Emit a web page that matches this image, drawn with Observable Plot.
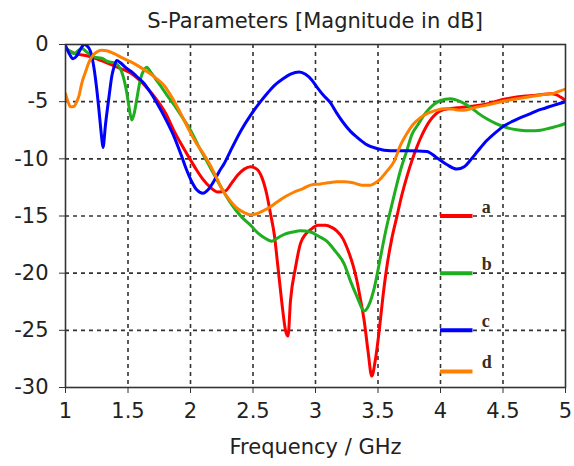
<!DOCTYPE html>
<html>
<head>
<meta charset="utf-8">
<script src="https://cdn.jsdelivr.net/npm/d3@7"></script>
<script src="https://cdn.jsdelivr.net/npm/@observablehq/plot@0.6"></script>
<style>
  html, body { margin: 0; padding: 0; background: #fff; }
  #title { width: 574px; box-sizing: border-box; height: 20px; padding: 9px 9px 0 65px; text-align: center; overflow: visible;
           font-family: "DejaVu Sans", sans-serif; font-size: 21px; line-height: 24px; color: #222; white-space: nowrap; }
  svg { display: block; }
</style>
</head>
<body>
<div id="title">S-Parameters [Magnitude in dB]</div>
<div id="chart"></div>
<script>
// ---- data ----
const seriesNames = ["a", "b", "c", "d"];

const freqA = [1.00,1.08,1.18,1.25,1.33,1.44,1.52,1.59,1.66,1.72,1.80,1.87,1.93,2.00,2.05,2.10,2.16,2.22,2.28,2.33,2.38,2.43,2.48,2.53,2.57,2.61,2.64,2.67,2.70,2.73,2.76,2.78,2.80,2.84,2.88,2.92,2.96,3.02,3.08,3.13,3.17,3.22,3.26,3.30,3.33,3.36,3.39,3.42,3.45,3.48,3.51,3.54,3.57,3.61,3.65,3.69,3.73,3.77,3.81,3.84,3.88,3.92,4.00,4.08,4.16,4.25,4.37,4.45,4.53,4.61,4.69,4.80,4.88,4.93,4.96,5.00];
const magA  = [-0.4,-0.8,-1.0,-1.25,-1.6,-2.1,-2.5,-3.1,-3.9,-4.7,-6.0,-7.6,-8.8,-10.1,-11.0,-11.8,-12.5,-12.9,-12.8,-12.1,-11.4,-10.9,-10.7,-10.9,-11.6,-13.1,-14.8,-16.6,-19.5,-22.5,-25.0,-25.5,-22.4,-19.5,-17.4,-16.6,-16.2,-15.8,-15.8,-16.0,-16.3,-17.0,-18.0,-19.3,-20.6,-22.3,-24.2,-26.8,-29.0,-27.5,-25.0,-22.0,-19.5,-17.0,-15.1,-13.2,-11.6,-10.2,-9.0,-8.2,-7.3,-6.6,-5.8,-5.6,-5.5,-5.4,-5.2,-4.95,-4.75,-4.6,-4.5,-4.4,-4.3,-4.4,-4.6,-4.9];

const freqB = [1.00,1.04,1.07,1.10,1.13,1.17,1.23,1.29,1.33,1.40,1.45,1.49,1.51,1.53,1.55,1.57,1.60,1.63,1.65,1.68,1.72,1.76,1.81,1.87,1.93,2.00,2.06,2.13,2.19,2.24,2.30,2.35,2.41,2.48,2.54,2.59,2.65,2.70,2.75,2.82,2.88,2.96,3.03,3.09,3.16,3.23,3.28,3.33,3.39,3.43,3.47,3.52,3.56,3.60,3.64,3.68,3.73,3.77,3.82,3.88,3.94,4.00,4.08,4.16,4.24,4.30,4.37,4.44,4.51,4.58,4.64,4.72,4.80,4.88,4.95,5.00];
const magB  = [-0.3,-0.6,-0.8,-0.55,-0.35,-0.65,-1.1,-1.2,-1.45,-1.65,-2.4,-4.2,-5.6,-6.6,-6.0,-4.8,-3.0,-2.2,-2.0,-2.4,-3.0,-3.6,-4.4,-5.3,-6.3,-7.5,-8.8,-10.2,-11.4,-12.4,-13.5,-14.3,-15.1,-15.8,-16.5,-16.9,-17.2,-16.9,-16.6,-16.4,-16.3,-16.4,-16.8,-17.2,-18.1,-19.2,-20.7,-22.0,-23.3,-22.7,-21.3,-18.6,-16.4,-14.5,-12.7,-11.0,-9.3,-7.9,-7.0,-6.0,-5.3,-4.9,-4.75,-5.0,-5.5,-6.0,-6.5,-6.9,-7.2,-7.4,-7.5,-7.55,-7.5,-7.3,-7.1,-6.9];

const freqC = [1.00,1.03,1.06,1.09,1.12,1.15,1.17,1.20,1.23,1.25,1.27,1.29,1.30,1.32,1.35,1.37,1.39,1.41,1.44,1.48,1.53,1.57,1.62,1.68,1.73,1.80,1.87,1.93,1.97,2.01,2.05,2.10,2.14,2.19,2.23,2.27,2.32,2.40,2.48,2.56,2.62,2.67,2.74,2.80,2.87,2.92,2.97,3.01,3.06,3.12,3.17,3.22,3.28,3.33,3.40,3.49,3.60,3.75,3.89,3.97,4.05,4.13,4.19,4.24,4.30,4.37,4.44,4.51,4.58,4.64,4.71,4.77,4.84,4.91,5.00];
const magC  = [-0.1,-0.8,-1.25,-1.0,-0.4,0.0,-0.1,-0.6,-2.2,-3.9,-6.0,-8.2,-9.0,-7.0,-4.4,-2.8,-1.9,-1.4,-1.6,-2.0,-2.4,-2.8,-3.3,-4.2,-5.1,-6.5,-8.1,-9.8,-11.0,-12.0,-12.7,-13.0,-12.7,-11.9,-11.1,-10.4,-9.3,-7.6,-6.2,-5.0,-4.2,-3.6,-3.0,-2.6,-2.4,-2.6,-3.1,-3.7,-4.4,-5.1,-6.0,-6.8,-7.6,-8.1,-8.7,-9.1,-9.3,-9.3,-9.35,-9.9,-10.5,-10.9,-10.7,-10.1,-9.3,-8.4,-7.7,-7.1,-6.7,-6.4,-6.1,-5.8,-5.55,-5.3,-5.0];

const freqD = [1.00,1.02,1.04,1.07,1.09,1.11,1.13,1.16,1.19,1.22,1.25,1.29,1.33,1.39,1.45,1.52,1.60,1.67,1.73,1.79,1.85,1.92,1.98,2.05,2.10,2.16,2.21,2.26,2.32,2.37,2.43,2.48,2.53,2.59,2.64,2.69,2.76,2.83,2.90,2.96,3.04,3.10,3.17,3.23,3.30,3.37,3.44,3.48,3.52,3.57,3.63,3.68,3.73,3.78,3.84,3.90,3.95,4.05,4.12,4.19,4.28,4.37,4.45,4.53,4.64,4.75,4.84,4.91,4.96,5.00];
const magD  = [-4.3,-5.0,-5.45,-5.4,-5.0,-4.4,-3.4,-2.4,-1.5,-0.95,-0.65,-0.5,-0.55,-0.8,-1.15,-1.5,-2.0,-2.5,-3.0,-3.6,-4.6,-6.0,-7.3,-8.7,-9.5,-10.6,-11.7,-12.8,-13.7,-14.3,-14.7,-14.9,-14.8,-14.5,-14.2,-13.8,-13.3,-12.9,-12.6,-12.3,-12.2,-12.1,-12.0,-12.0,-12.1,-12.3,-12.3,-12.1,-11.75,-11.1,-10.2,-8.8,-7.8,-7.0,-6.4,-6.0,-5.8,-5.6,-5.7,-5.75,-5.5,-5.3,-5.1,-4.9,-4.7,-4.5,-4.35,-4.25,-4.05,-3.9];

const xTicks = [1, 1.5, 2, 2.5, 3, 3.5, 4, 4.5, 5];
const yTicks = [0, -5, -10, -15, -20, -25, -30];

// ---- build table ----
const freqs = [freqA, freqB, freqC, freqD];
const mags = [magA, magB, magC, magD];
const rows = seriesNames.flatMap((s, k) => freqs[k].map((f, i) => ({series: s, f, m: mags[k][i]})));
const drawOrder = ["a", "b", "c", "d"];

const colors = ["#ff0000", "#1fae1f", "#0000ff", "#ff8000"];
const gridX = xTicks.slice(1, -1);
const gridY = yTicks.slice(1, -1);
const legendX1 = xTicks[6];
const legendX2 = xTicks[6] + 0.26;
const legendLabelX = xTicks[6] + 0.33;
const legendY = i => i < 3 ? gridY[2] - 5 * i : -28.6;

const plot = Plot.plot({
  width: 574,
  height: 446,
  marginLeft: 65,
  marginRight: 9,
  marginTop: 24,
  marginBottom: 79,
  style: {fontFamily: "DejaVu Sans, sans-serif", fontSize: "21px", color: "#222", background: "transparent", overflow: "visible"},
  x: {domain: [1, 5]},
  y: {domain: [-30, 0]},
  color: {domain: seriesNames, range: colors},
  marks: [
    Plot.ruleX(gridX, {stroke: "#333", strokeWidth: 1.6, strokeDasharray: "4,4"}),
    Plot.ruleY(gridY, {stroke: "#333", strokeWidth: 1.6, strokeDasharray: "4,4"}),
    ...drawOrder.map(s => Plot.line(rows.filter(r => r.series === s), {
      x: "f", y: "m", stroke: "series", strokeWidth: 3, curve: "monotone-x", clip: true
    })),
    Plot.ruleY(seriesNames, {x1: () => legendX1, x2: () => legendX2, y: (d, i) => legendY(i), stroke: d => d, strokeWidth: 4}),
    Plot.text(seriesNames, {x: () => legendLabelX, y: (d, i) => legendY(i), text: d => d, textAnchor: "start", dy: -9,
      fontFamily: "Liberation Serif, serif", fontWeight: "bold", fontSize: 18, fill: "#3a2e1a"}),
    Plot.frame({stroke: "#333", strokeWidth: 1.6}),
    Plot.axisX({ticks: xTicks, tickFormat: d => String(d), tickSize: 6, tickPadding: 10, stroke: "#333",
      label: "Frequency / GHz", labelAnchor: "center", labelArrow: "none", labelOffset: 66}),
    Plot.axisY({ticks: yTicks, tickFormat: d => String(d), tickSize: 6, tickPadding: 11, stroke: "#333", label: null})
  ]
});
document.getElementById("chart").appendChild(plot);
</script>
</body>
</html>
